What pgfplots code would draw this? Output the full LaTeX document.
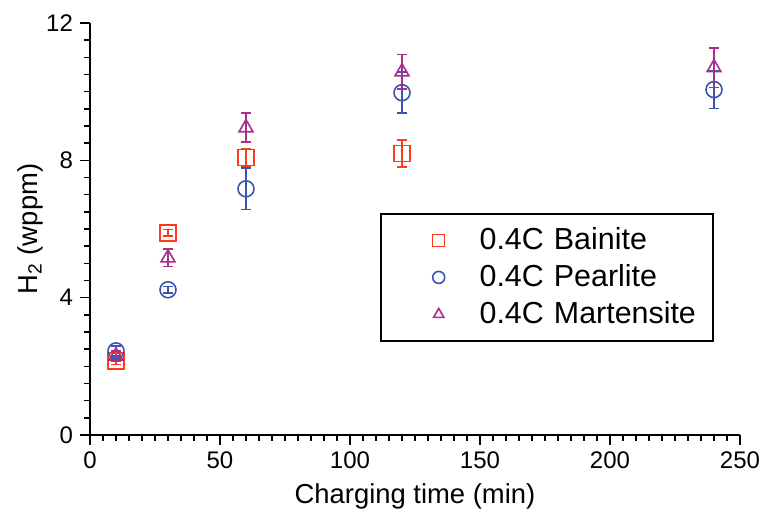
\documentclass[border=0pt]{standalone}
\usepackage{pgfplots}
\pgfplotsset{compat=1.18}
\usepackage{fontspec}
\setmainfont{Liberation Sans}
\definecolor{cbain}{HTML}{FF3A1A}
\definecolor{cpear}{HTML}{3A55B0}
\definecolor{cmart}{HTML}{A8308C}
\begin{document}
\begin{tikzpicture}
\path[use as bounding box] (-45pt,-41.5pt) rectangle (335pt,217.5pt);
\begin{axis}[
  at={(0,0)}, anchor=south west,
  scale only axis, width=325pt, height=206pt,
  axis lines=left, axis line style={-, line width=0.8pt},
  xmin=0, xmax=250, ymin=0, ymax=12,
  xtick={0,50,...,250}, ytick={0,4,8,12},
  minor x tick num=9, minor y tick num=7,
  tick align=outside,
  major tick length=5pt, minor tick length=3pt,
  every tick/.style={black, line width=0.7pt},
  /pgf/number format/assume math mode=true,
  tick label style={font=\fontsize{12}{14}\selectfont},
  xlabel={Charging time (min)}, ylabel={H\textsubscript{2} (wppm)},
  label style={font=\fontsize{13.7}{16}\selectfont},
  xlabel style={at={(axis description cs:0.5,0)}, anchor=north, yshift=-21pt},
  ylabel style={at={(axis description cs:0,0.5)}, anchor=south, yshift=20pt},
  clip=false,
  legend style={at={(axis cs:111.5,6.47)}, anchor=north west, draw=black, line width=1pt,
    font=\fontsize{15.2}{17}\selectfont, inner xsep=6pt, inner ysep=5pt, row sep=2pt,
    text width=132pt, cells={anchor=west}},
  legend cell align=left,
  legend image code/.code={\path (0cm,0cm) (0.6cm,0cm);
    \draw[overlay,mark repeat=2,mark phase=2,#1,mark size=3pt] plot coordinates {(22.5pt,0pt)(22.5pt,0pt)(22.5pt,0pt)};},
  every axis plot/.append style={only marks, mark size=4pt, line width=0.8pt},
  error bars/error bar style={line width=0.8pt},
  error bars/error mark options={rotate=90, mark size=2.5pt, line width=0.8pt},
]
\addplot[color=cbain, mark=square, error bars/.cd, y dir=both, y explicit]
  coordinates {(10,2.15) +- (0,0.1) (30,5.89) +- (0,0.1) (60,8.08) +- (0,0.25) (120,8.2) +- (0,0.4)};
\addlegendentry{\hspace{23.5pt}0.4C Bainite}
\addplot[color=cpear, mark=o, error bars/.cd, y dir=both, y explicit]
  coordinates {(10,2.45) +- (0,0.15) (30,4.23) +- (0,0.1) (60,7.17) +- (0,0.6) (120,9.97) +- (0,0.6) (240,10.06) +- (0,0.55)};
\addlegendentry{\hspace{23.5pt}0.4C Pearlite}
\addplot[color=cmart, mark=triangle, error bars/.cd, y dir=both, y explicit]
  coordinates {(10,2.3) +- (0,0.15) (30,5.16) +- (0,0.25) (60,8.95) +- (0,0.42) (120,10.58) +- (0,0.5) (240,10.7) +- (0,0.58)};
\addlegendentry{\hspace{23.5pt}0.4C Martensite}
\end{axis}
\end{tikzpicture}
\end{document}
